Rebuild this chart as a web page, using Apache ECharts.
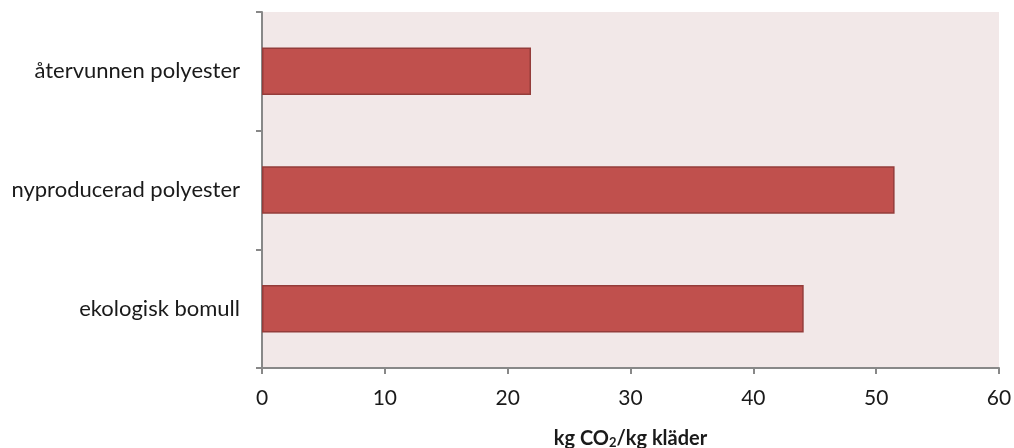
<!DOCTYPE html>
<html>
<head>
<meta charset="utf-8">
<script src="https://cdn.jsdelivr.net/npm/echarts@6/dist/echarts.min.js"></script>
<style>
  html, body { margin: 0; padding: 0; background: #ffffff; }
  #chart { width: 1014px; height: 448px; }
</style>
</head>
<body>
<div id="chart"></div>
<script>
// Material categories, listed bottom to top as drawn on the category axis
const categories = ['ekologisk bomull', 'nyproducerad polyester', 'återvunnen polyester'];
// Emissions per kg of clothing
const values = [44.1, 51.5, 21.9];
const xTicks = [0, 10, 20, 30, 40, 50, 60];

const chart = echarts.init(document.getElementById('chart'));
chart.setOption({
  animation: false,
  backgroundColor: '#ffffff',
  textStyle: { fontFamily: 'Lato, Open Sans, sans-serif' },
  grid: {
    left: 262, right: 15, top: 12, bottom: 80,
    outerBoundsMode: 'none',
    show: true, backgroundColor: '#F2E8E8', borderWidth: 0
  },
  xAxis: {
    type: 'value',
    min: xTicks[0], max: xTicks[xTicks.length - 1], interval: 10,
    splitLine: { show: false },
    axisLine: { show: true, lineStyle: { color: '#888888', width: 2 } },
    axisTick: { show: true, length: 6, lineStyle: { color: '#888888', width: 2 } },
    axisLabel: { color: '#1a1a1a', fontSize: 21, margin: 20 },
    name: '{a|kg CO}{s|2}{a|/kg kläder}',
    nameLocation: 'middle',
    nameGap: 60,
    nameTextStyle: {
      rich: {
        a: { fontSize: 20, fontWeight: 'bold', color: '#1a1a1a' },
        s: { fontSize: 13, fontWeight: 'bold', color: '#1a1a1a', verticalAlign: 'bottom', padding: [8, 0, 0, 0] }
      }
    }
  },
  yAxis: {
    type: 'category',
    data: categories,
    axisLine: { show: true, lineStyle: { color: '#888888', width: 2 } },
    axisTick: { show: true, length: 6, lineStyle: { color: '#888888', width: 2 } },
    axisLabel: { color: '#1a1a1a', fontSize: 22, margin: 22 }
  },
  series: [{
    type: 'bar',
    data: values,
    barCategoryGap: '60%',
    itemStyle: { color: '#C0504D', borderColor: '#943C3A', borderWidth: 1.5 }
  }]
});
</script>
</body>
</html>
